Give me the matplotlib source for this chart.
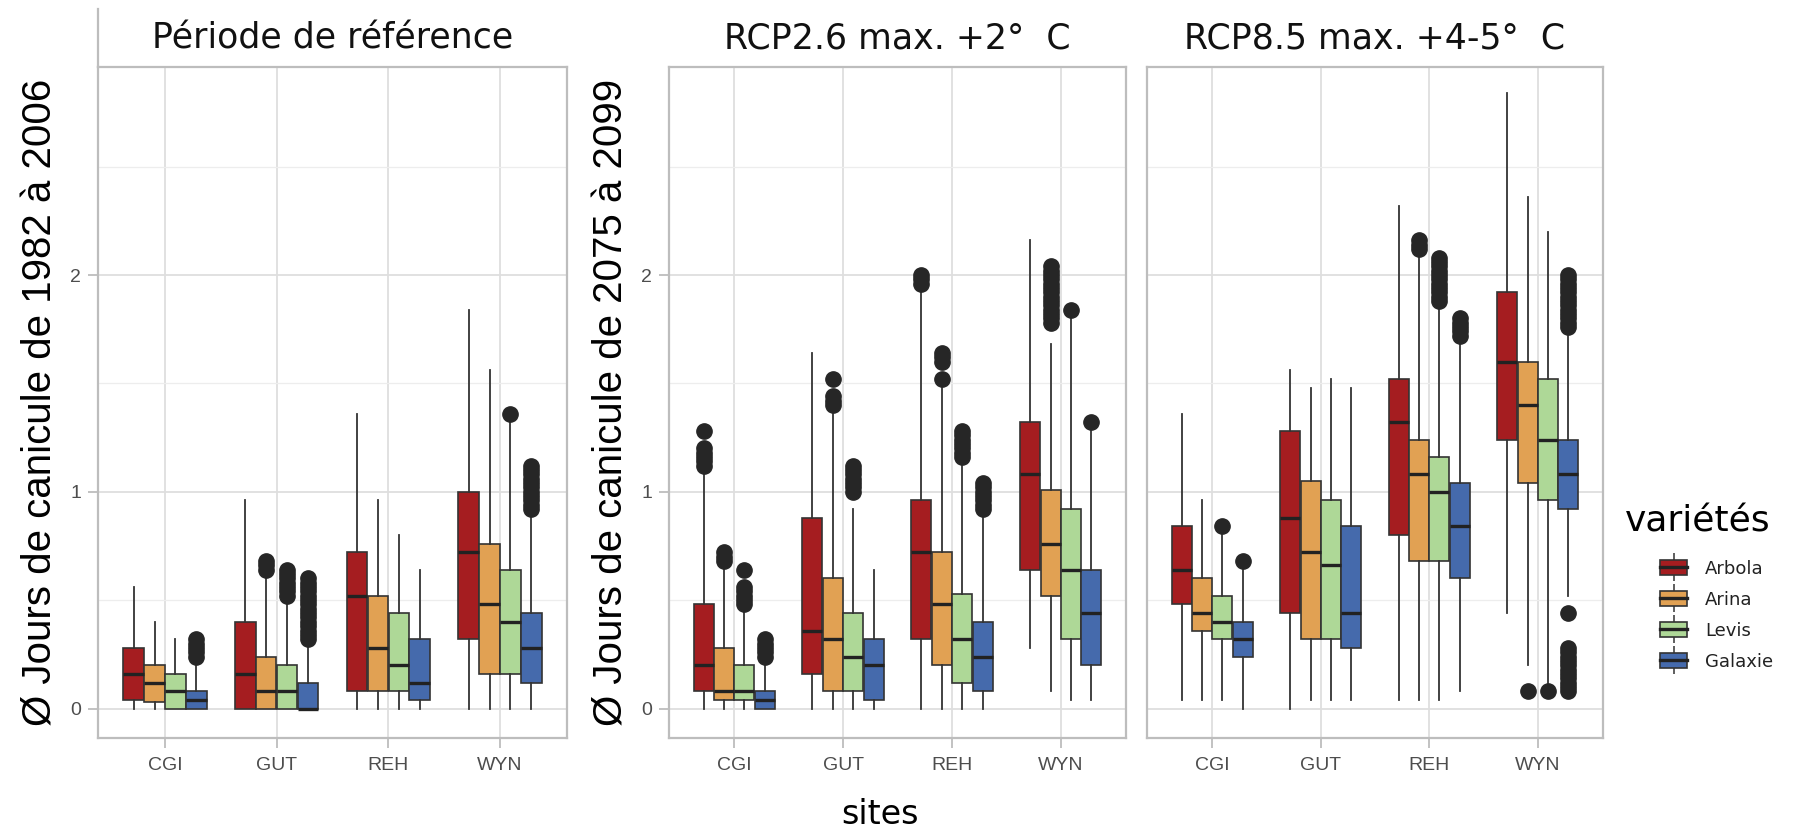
import matplotlib
matplotlib.use("Agg")
import matplotlib.pyplot as plt
from matplotlib.patches import Patch
from matplotlib.lines import Line2D
from matplotlib.legend_handler import HandlerTuple

sites = ['CGI', 'GUT', 'REH', 'WYN']
varietes = ['Arbola', 'Arina', 'Levis', 'Galaxie']
couleurs = ['#A51D20', '#E1A153', '#AED897', '#456AAC']
titres = ['Période de référence', 'RCP2.6 max. +2°  C', 'RCP8.5 max. +4-5°  C']

# Période de référence (1982-2006): rows = sites, cols = variétés
ref_lo = [[0, 0, 0, 0], [0, 0, 0, 0], [0, 0, 0, 0], [0, 0, 0, 0]]
ref_q1 = [[0.04, 0.03, 0, 0], [0, 0, 0, 0], [0.08, 0.08, 0.08, 0.04], [0.32, 0.16, 0.16, 0.12]]
ref_med = [[0.16, 0.12, 0.08, 0.04], [0.16, 0.08, 0.08, 0.0], [0.52, 0.28, 0.20, 0.12], [0.72, 0.48, 0.40, 0.28]]
ref_q3 = [[0.28, 0.20, 0.16, 0.08], [0.40, 0.24, 0.20, 0.12], [0.72, 0.52, 0.44, 0.32], [1.00, 0.76, 0.64, 0.44]]
ref_hi = [[0.56, 0.40, 0.32, 0.20], [0.96, 0.60, 0.48, 0.29], [1.36, 0.96, 0.80, 0.64], [1.84, 1.56, 1.33, 0.90]]
ref_fl = [[[], [], [], [0.24, 0.26, 0.28, 0.30, 0.32]],
          [[], [0.64, 0.66, 0.68], [0.52, 0.54, 0.56, 0.58, 0.60, 0.62, 0.64],
           [0.32, 0.34, 0.36, 0.38, 0.40, 0.42, 0.44, 0.46, 0.48, 0.50, 0.52, 0.54, 0.56, 0.58, 0.60]],
          [[], [], [], []],
          [[], [], [1.36], [0.92, 0.94, 0.96, 0.98, 1.00, 1.02, 1.04, 1.06, 1.08, 1.10, 1.12]]]

# RCP2.6 (2075-2099)
r26_lo = [[0, 0, 0, 0], [0, 0, 0, 0], [0, 0, 0, 0], [0.28, 0.08, 0.04, 0.04]]
r26_q1 = [[0.08, 0.04, 0.04, 0], [0.16, 0.08, 0.08, 0.04], [0.32, 0.20, 0.12, 0.08], [0.64, 0.52, 0.32, 0.20]]
r26_med = [[0.20, 0.08, 0.08, 0.04], [0.36, 0.32, 0.24, 0.20], [0.72, 0.48, 0.32, 0.24], [1.08, 0.76, 0.64, 0.44]]
r26_q3 = [[0.48, 0.28, 0.20, 0.08], [0.88, 0.60, 0.44, 0.32], [0.96, 0.72, 0.53, 0.40], [1.32, 1.01, 0.92, 0.64]]
r26_hi = [[1.08, 0.65, 0.45, 0.21], [1.64, 1.36, 0.92, 0.64], [1.92, 1.48, 1.12, 0.88], [2.16, 1.68, 1.80, 1.28]]
r26_fl = [[[1.12, 1.14, 1.16, 1.18, 1.20, 1.28], [0.68, 0.70, 0.72],
           [0.48, 0.50, 0.52, 0.54, 0.56, 0.64], [0.24, 0.26, 0.28, 0.30, 0.32]],
          [[], [1.40, 1.42, 1.44, 1.52], [1.00, 1.02, 1.04, 1.06, 1.08, 1.10, 1.12], []],
          [[1.96, 1.98, 2.00], [1.52, 1.60, 1.62, 1.64],
           [1.16, 1.18, 1.20, 1.22, 1.24, 1.26, 1.28], [0.92, 0.94, 0.96, 0.98, 1.00, 1.02, 1.04]],
          [[], [1.78, 1.80, 1.82, 1.84, 1.86, 1.88, 1.90, 1.92, 1.94, 1.96, 1.98, 2.00, 2.02, 2.04],
           [1.84], [1.32]]]

# RCP8.5 (2075-2099)
r85_lo = [[0.04, 0.04, 0.04, 0], [0, 0.04, 0.04, 0.04], [0.04, 0.04, 0.04, 0.08], [0.44, 0.20, 0.12, 0.52]]
r85_q1 = [[0.48, 0.36, 0.32, 0.24], [0.44, 0.32, 0.32, 0.28], [0.80, 0.68, 0.68, 0.60], [1.24, 1.04, 0.96, 0.92]]
r85_med = [[0.64, 0.44, 0.40, 0.32], [0.88, 0.72, 0.66, 0.44], [1.32, 1.08, 1.00, 0.84], [1.60, 1.40, 1.24, 1.08]]
r85_q3 = [[0.84, 0.60, 0.52, 0.40], [1.28, 1.05, 0.96, 0.84], [1.52, 1.24, 1.16, 1.04], [1.92, 1.60, 1.52, 1.24]]
r85_hi = [[1.36, 0.96, 0.80, 0.64], [1.56, 1.48, 1.52, 1.48], [2.32, 2.09, 1.85, 1.68], [2.84, 2.36, 2.20, 1.72]]
r85_fl = [[[], [], [0.84], [0.68]],
          [[], [], [], []],
          [[], [2.12, 2.14, 2.16], [1.88, 1.90, 1.92, 1.94, 1.96, 1.98, 2.00, 2.02, 2.04, 2.06, 2.08],
           [1.72, 1.74, 1.76, 1.78, 1.80]],
          [[], [0.08], [0.08],
           [0.08, 0.10, 0.12, 0.14, 0.16, 0.18, 0.20, 0.22, 0.24, 0.26, 0.28, 0.44,
            1.76, 1.78, 1.80, 1.82, 1.84, 1.86, 1.88, 1.90, 1.92, 1.94, 1.96, 1.98, 2.00]]]

panneaux = [(ref_lo, ref_q1, ref_med, ref_q3, ref_hi, ref_fl),
            (r26_lo, r26_q1, r26_med, r26_q3, r26_hi, r26_fl),
            (r85_lo, r85_q1, r85_med, r85_q3, r85_hi, r85_fl)]

W, H = 1793, 836
fig = plt.figure(figsize=(W / 100, H / 100), dpi=100)
# panel boxes in pixels: (left, right)
cadres = [(98, 567), (669, 1126), (1147, 1603)]
top_px, bot_px = 67, 738

sans = 'Liberation Sans'
bw = 0.1875
axes = []
for k, (l, r) in enumerate(cadres):
    ax = fig.add_axes([l / W, (H - bot_px) / H, (r - l) / W, (bot_px - top_px) / H])
    axes.append(ax)
    lo, q1, med, q3, hi, fl = panneaux[k]
    for i in range(len(sites)):
        for j in range(len(varietes)):
            st = [dict(whislo=lo[i][j], q1=q1[i][j], med=med[i][j], q3=q3[i][j],
                       whishi=hi[i][j], fliers=fl[i][j])]
            ax.bxp(st, positions=[i + (j - 1.5) * bw], widths=bw * 0.98,
                   patch_artist=True, showcaps=False, manage_ticks=False,
                   boxprops=dict(facecolor=couleurs[j], edgecolor='#333333', linewidth=1.2),
                   medianprops=dict(color='#222222', linewidth=2.4),
                   whiskerprops=dict(color='#333333', linewidth=1.3),
                   flierprops=dict(marker='o', markerfacecolor='#262626',
                                   markeredgecolor='#262626', markersize=11),
                   zorder=3)
    ax.set_xlim(-0.6, 3.6)
    ax.set_ylim(-0.136, 2.96)
    ax.set_xticks(range(len(sites)))
    ax.set_xticklabels(sites, fontsize=14, color='#4D4D4D', family=sans)
    ax.set_yticks([0, 1, 2])
    ax.set_yticks([0.5, 1.5, 2.5], minor=True)
    ax.grid(which='major', color='#DEDEDE', linewidth=1.3, zorder=0)
    ax.grid(which='minor', axis='y', color='#EDEDED', linewidth=0.9, zorder=0)
    ax.set_axisbelow(True)
    ax.tick_params(axis='x', length=7, width=1.2, color='#B8B8B8', pad=7)
    ax.tick_params(axis='y', which='minor', length=0)
    if k < 2:
        ax.set_yticklabels(['0', '1', '2'], fontsize=14, color='#4D4D4D', family=sans)
        ax.tick_params(axis='y', length=7, width=1.2, color='#B8B8B8', pad=5)
    else:
        ax.tick_params(axis='y', length=0, labelleft=False)
    for s in ax.spines.values():
        s.set_color('#BDBDBD')
        s.set_linewidth(1.6)
    ax.set_title(titres[k], fontsize=25, pad=13, color='#111111')

axes[0].set_ylabel('Ø Jours de canicule de 1982 à 2006', fontsize=29, family=sans, labelpad=8)
axes[1].set_ylabel('Ø Jours de canicule de 2075 à 2099', fontsize=29, family=sans, labelpad=8)
fig.text(880 / W, (H - 815) / H, 'sites', fontsize=24, ha='center', va='center')

# strip edge of first panel
fig.add_artist(Line2D([98 / W, 98 / W], [(H - 9) / H, (H - 67) / H], color='#BDBDBD', lw=1.6))

# legend: title placed on its own, keys indented under it
fig.text(1625 / W, (H - 521) / H, 'variétés', fontsize=26, ha='left', va='center')
poignees = [(Line2D([], [], color='#333333', marker='|', linestyle='None', markersize=20, markeredgewidth=1.1),
             Patch(facecolor=c, edgecolor='#333333', linewidth=1.2),
             Line2D([], [], color='#222222', linewidth=2.4)) for c in couleurs]
leg = fig.legend(poignees, varietes, handler_map={tuple: HandlerTuple(ndivide=1)},
                 loc='upper left', bbox_to_anchor=(1660 / W, (H - 560) / H),
                 frameon=False, fontsize=13, borderpad=0, borderaxespad=0,
                 handlelength=1.5, handleheight=0.9, labelspacing=0.72, handletextpad=1.0)
for t in leg.get_texts():
    t.set_color('#222222')

fig.savefig('out.png', dpi=100)
